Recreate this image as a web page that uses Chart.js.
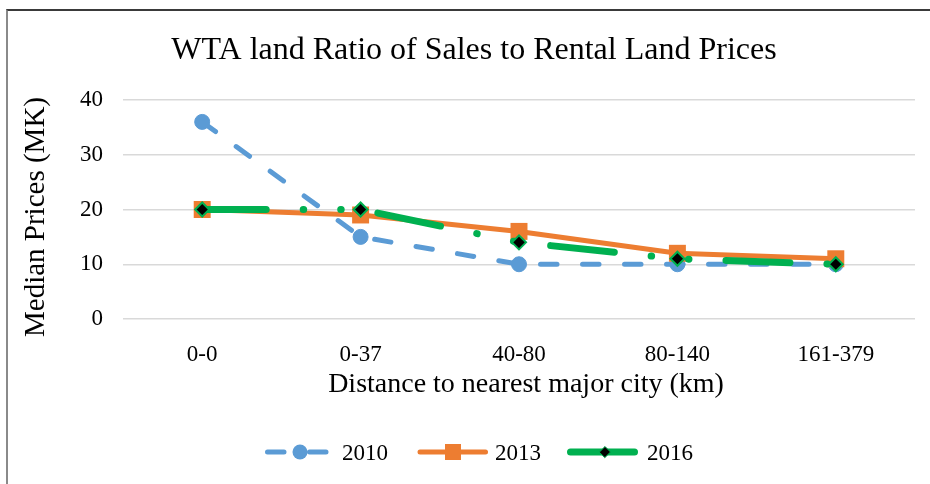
<!DOCTYPE html>
<html>
<head>
<meta charset="utf-8">
<script src="https://cdn.jsdelivr.net/npm/chart.js@4.4.1/dist/chart.umd.min.js"></script>
<style>
    html, body { margin: 0; padding: 0; background: #fff; overflow: hidden; }
    #frame {
        position: absolute; left: 6px; top: 9px; width: 1000px; height: 600px;
        border-top: 2px solid #3a3a3a; border-left: 2px solid #8a8a8a;
    }
    #wrap { position: absolute; left: 0; top: 0; width: 930px; height: 484px; }
</style>
</head>
<body>
<div id="frame"></div>
<div id="wrap"><canvas id="ratioChart" width="930" height="484"></canvas></div>
<script>
// WTA land - ratio of sales to rental land prices

const chartTitle = 'WTA land Ratio of Sales to Rental Land Prices';
const xTitle = 'Distance to nearest major city (km)';
const yTitle = 'Median Prices (MK)';
const categories = ['0-0', '0-37', '40-80', '80-140', '161-379'];
const years = ['2010', '2013', '2016'];
const ratio2010 = [36, 15, 10, 10, 10];
const ratio2013 = [20, 19, 16, 12, 11];
const ratio2016 = [20, 20, 14, 11, 10];

const FONT = '"Liberation Serif", "Times New Roman", serif';
const BLUE = '#5b9bd5';
const ORANGE = '#ed7d31';
const GREEN = '#00b050';

const dash2010 = [16.5, 25.5];
const dash2016 = [64, 37, 0.5, 37, 0.5, 37];

Chart.defaults.font.family = FONT;
Chart.defaults.color = '#000';

// titulos + leyenda dibujados a mano (linea + marcador como en Excel)
const customDecor = {
    id: 'customDecor',
    afterDraw(chart) {
        const ctx = chart.ctx;
        ctx.save();
        ctx.fillStyle = '#000';
        ctx.font = '32px ' + FONT;
        ctx.textAlign = 'center';
        ctx.textBaseline = 'alphabetic';
        ctx.fillText(chartTitle, 474, 59);

        // titulos de ejes
        ctx.font = '28px ' + FONT;
        ctx.fillText(xTitle, 526, 392);
        ctx.save();
        ctx.translate(36, 217);
        ctx.rotate(-Math.PI / 2);
        ctx.font = '29px ' + FONT;
        ctx.textBaseline = 'middle';
        ctx.fillText(yTitle, 0, 0);
        ctx.restore();

        const items = [
            { x0: 267.5, x1: 328, mx: 300, color: BLUE, lw: 5, dash: dash2010 },
            { x0: 420, x1: 485.5, mx: 453, color: ORANGE, lw: 5, dash: [] },
            { x0: 570.5, x1: 636.5, mx: 605, color: GREEN, lw: 7, dash: dash2016 }
        ];
        const textX = [342, 495, 647];
        const ly = 452;
        items.forEach((it, i) => {
            ctx.beginPath();
            ctx.setLineDash(it.dash);
            ctx.lineCap = 'round';
            ctx.lineWidth = it.lw;
            ctx.strokeStyle = it.color;
            ctx.moveTo(it.x0, ly);
            ctx.lineTo(it.x1, ly);
            ctx.stroke();
            ctx.setLineDash([]);
            if (i === 0) {
                ctx.fillStyle = BLUE;
                ctx.beginPath(); ctx.arc(it.mx, ly, 7.5, 0, Math.PI * 2); ctx.fill();
            } else if (i === 1) {
                ctx.fillStyle = ORANGE;
                ctx.fillRect(it.mx - 8, ly - 8, 16, 16);
            } else {
                ctx.beginPath();
                ctx.moveTo(it.mx - 5.5, ly);
                ctx.lineTo(it.mx, ly - 5.5);
                ctx.lineTo(it.mx + 5.5, ly);
                ctx.lineTo(it.mx, ly + 5.5);
                ctx.closePath();
                ctx.fillStyle = '#000';
                ctx.fill();
                ctx.lineWidth = 1;
                ctx.strokeStyle = GREEN;
                ctx.stroke();
            }
            ctx.fillStyle = '#000';
            ctx.font = '23px ' + FONT;
            ctx.textAlign = 'left';
            ctx.textBaseline = 'alphabetic';
            ctx.fillText(years[i], textX[i], 460);
        });
        ctx.restore();
    }
};

new Chart(document.getElementById('ratioChart').getContext('2d'), {
    type: 'line',
    data: {
        labels: categories,
        datasets: [
            {
                label: years[0],
                data: ratio2010,
                order: 3,
                borderColor: BLUE,
                backgroundColor: BLUE,
                borderWidth: 5,
                borderDash: dash2010,
                borderCapStyle: 'round',
                borderJoinStyle: 'round',
                pointStyle: 'circle',
                pointRadius: 7.5,
                pointBorderWidth: 1,
                pointBackgroundColor: BLUE,
                pointBorderColor: BLUE,
                tension: 0
            },
            {
                label: years[1],
                data: ratio2013,
                order: 2,
                borderColor: ORANGE,
                backgroundColor: ORANGE,
                borderWidth: 5,
                borderCapStyle: 'round',
                borderJoinStyle: 'round',
                pointStyle: 'rect',
                pointRadius: 12,
                pointBorderWidth: 0,
                pointBackgroundColor: ORANGE,
                pointBorderColor: ORANGE,
                tension: 0
            },
            {
                label: years[2],
                data: ratio2016,
                order: 1,
                borderColor: GREEN,
                backgroundColor: GREEN,
                borderWidth: 7,
                borderDash: dash2016,
                borderCapStyle: 'round',
                borderJoinStyle: 'round',
                pointStyle: 'rectRot',
                pointRadius: 7,
                pointBorderWidth: 2,
                pointBackgroundColor: '#000',
                pointBorderColor: GREEN,
                tension: 0
            }
        ]
    },
    options: {
        responsive: false,
        animation: false,
        events: [],
        layout: { padding: { top: 100, right: 15, bottom: 0, left: 0 } },
        plugins: {
            legend: { display: false },
            title: { display: false },
            tooltip: { enabled: false }
        },
        scales: {
            x: {
                offset: true,
                grid: { display: false, offset: true },
                border: { display: false },
                ticks: { font: { size: 23 }, color: '#000', padding: 14, maxRotation: 0 },
                afterFit(scale) { scale.height = 165; }
            },
            y: {
                min: 0,
                max: 40,
                ticks: { stepSize: 10, font: { size: 23 }, color: '#000', padding: 20 },
                grid: { color: '#d9d9d9', lineWidth: 1.5, drawTicks: false },
                border: { display: false },
                afterFit(scale) { scale.width = 123; }
            }
        }
    },
    plugins: [customDecor]
});
</script>
</body>
</html>
